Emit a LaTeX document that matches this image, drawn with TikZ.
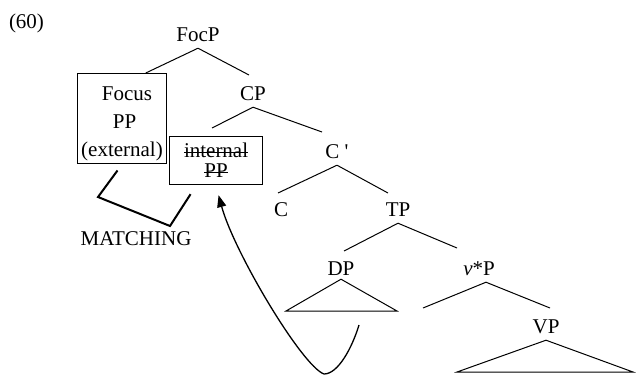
\documentclass[tikz,border=0pt]{standalone}
\usepackage{fontspec}
\setmainfont{Liberation Serif}
\newfontfamily\qfont{Liberation Serif}
\usetikzlibrary{arrows.meta,calc}
\newcommand\strk[1]{\setbox0\hbox{#1}\rlap{\rule[4.5pt]{\wd0}{1pt}}\box0}
\begin{document}
\begin{tikzpicture}[x=1pt,y=-1pt,
  font=\fontsize{21}{25}\selectfont,
  tl/.style={inner xsep=0pt, inner ysep=7pt, text depth=0pt, anchor=base},
  plain/.style={inner sep=0pt, anchor=base},
  br/.style={line width=1pt},
  box/.style={draw, line width=1pt, align=center, anchor=north west},
  ]
\useasboundingbox (0,0) rectangle (636,376);

% labels
\node[plain] (ex) at (26.5,28) {(60)};
\node[tl] (FocP) at (198,41) {FocP};
\node[box, inner xsep=3.7pt, inner ysep=3pt, font=\fontsize{21}{28}\selectfont] (focbox) at (77,73)
  {\rule{0pt}{24pt}\hspace*{10pt}Focus\\\hspace*{5pt}PP\\(external)};
\node[tl] (CP) at (253,100) {CP};
\node[box, inner xsep=14.5pt, inner ysep=6.8pt, font=\fontsize{21}{20}\selectfont] (intbox) at (169,136)
  {\strk{internal}\\\strk{PP}};
\node[tl] (Cbar) at (337,158) {C {\qfont '}};
\node[tl] (C) at (281,216) {C};
\node[tl] (TP) at (398,216) {TP};
\node[tl] (DP) at (341,275) {DP};
\node[tl] (vP) at (479,275) {\textit{v}*P};
\node[tl] (VP) at (546,333) {VP};
\node[plain] (match) at (136,245) {MATCHING};

% branch end points
\coordinate (eCP) at (249,75);
\coordinate (eInt) at (212,128);
\coordinate (eCbar) at (322,132);
\coordinate (eC) at (278,193);
\coordinate (eTP) at (388,193);
\coordinate (eDP) at (344,251);
\coordinate (evP) at (457,248);
\coordinate (evPl) at (423,308);
\coordinate (eVP) at (550,308);

% branches
\draw[br] (FocP.south) -- ($(focbox.north west)!0.764!(focbox.north east)$);
\draw[br] (FocP.south) -- (eCP);
\draw[br] (CP.south) -- (eInt);
\draw[br] (CP.south) -- (eCbar);
\draw[br] (Cbar.south) -- (eC);
\draw[br] (Cbar.south) -- (eTP);
\draw[br] (TP.south) -- (eDP);
\draw[br] (TP.south) -- (evP);
\draw[br] ([xshift=7pt]vP.south) -- (evPl);
\draw[br] ([xshift=7pt]vP.south) -- (eVP);

% triangles
\draw[br] ([yshift=3pt]DP.south) -- (397,311) -- (286,311) -- cycle;
\draw[br] (VP.south) -- (633,372) -- (457,372) -- cycle;

% matching
\coordinate (m1) at (98,197);
\coordinate (m2) at (170,226);
\draw[line width=2pt, line join=miter] ($(focbox.south)+(-4.5,6)$) -- (m1) -- (m2) -- ($(intbox.south)+(-25.5,9)$);

% movement arrow
\coordinate (mvS) at (359,325);
\coordinate (mvB) at (324,374);
\draw[line width=1.3pt, -{Triangle[length=12pt,width=9pt]}]
  (mvS) .. controls (352,348) and (338,374) .. (mvB)
  .. controls (302,366) and (234,252) .. ($(intbox.south)+(2.5,10)$);
\end{tikzpicture}
\end{document}
